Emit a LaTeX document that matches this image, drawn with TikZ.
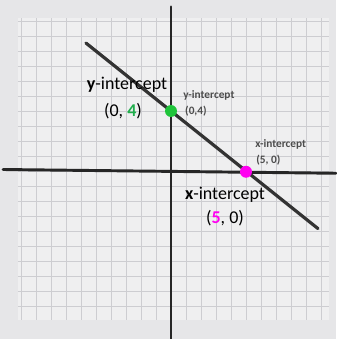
\documentclass[tikz,border=0pt]{standalone}
\usepackage{fontspec}
\setmainfont{Carlito}
\definecolor{paper}{HTML}{E6E6E8}
\definecolor{gridbg}{HTML}{EFEFF0}
\definecolor{gridln}{HTML}{CDCDD1}
\definecolor{ptgreen}{HTML}{1FC43A}
\definecolor{ptmag}{HTML}{FF00F0}
\definecolor{numgreen}{HTML}{1FAE4C}
\tikzset{
  axis/.style={line width=2.2pt, line cap=round, black!85},
  graphline/.style={line width=2.4pt, line cap=round, black!80},
  bigtext/.style={font=\fontsize{13.5}{15}\selectfont, inner sep=0pt},
  smalltext/.style={font=\fontsize{8.5}{9}\selectfont\bfseries, text=black!70, inner sep=0pt, anchor=west},
  dot/.style={circle, inner sep=0pt, minimum size=9pt}
}
\begin{document}
\begin{tikzpicture}[x=11.25pt,y=11.25pt]
			\useasboundingbox[fill=paper] (-11.4,-11.2) rectangle (11.0,11.4);
			\fill[gridbg] (-10.2,-9.9) rectangle (10.5,10.2);
			\draw[gridln, line width=0.5pt, step=1] (-10.2,-9.9) grid (10.5,10.2);
			% axes
			\coordinate (xl) at (-11.2,0.1);
			\coordinate (xr) at (11.0,-0.15);
			\coordinate (yt) at (0,10.95);
			\coordinate (yb) at (0,-11.2);
			\draw[axis] (xl) -- (xr);
			\draw[axis] (yt) -- (yb);
			% the line through both intercepts
			\coordinate (lstart) at (-5.67,8.53);
			\coordinate (lend) at (9.8,-3.84);
			\draw[graphline] (lstart) -- (lend);
			\node[dot, fill=ptgreen] (yint) at (0,4) {};
			\node[dot, fill=ptmag] (xint) at (5,-0.05) {};
			% labels
			\node[bigtext] (ylab) at (-2.93,5.73) {\textbf{y}-intercept};
			\node[bigtext] (ypair) at (-3.2,4.0) {(0, \textbf{\textcolor{numgreen}{4}})};
			\node[bigtext] (xlab) at (3.6,-1.6) {\textbf{x}-intercept};
			\node[bigtext] (xpair) at (3.6,-3.13) {(\textbf{\textcolor{ptmag}{5}}, 0)};
			\node[smalltext] (ysmall) at (0.8,5.07) {y-intercept};
			\node[smalltext] (ysmallpair) at (0.93,4.0) {(0,4)};
			\node[smalltext] (xsmall) at (5.6,1.8) {x-intercept};
			\node[smalltext] (xsmallpair) at (5.67,0.73) {(5, 0)};
		\end{tikzpicture}
\end{document}
